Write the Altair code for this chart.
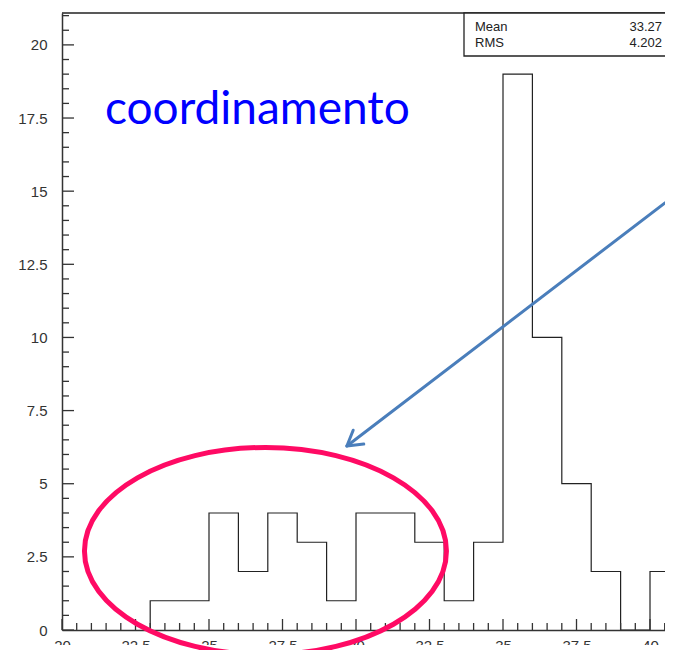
import altair as alt
import pandas as pd

# ---- histogram data (bin low edges, width 1) ----
bin_low = [23, 24, 25, 26, 27, 28, 29, 30, 31, 32, 33, 34, 35, 36, 37, 38, 39, 40]
counts = [1, 1, 4, 2, 4, 3, 1, 4, 4, 3, 1, 3, 19, 10, 5, 2, 0, 2]
bin_width = 1

# ---- axes ----
x_domain = [20, 40.51]
y_domain = [0, 21.09]
x_major = [20, 22.5, 25, 27.5, 30, 32.5, 35, 37.5, 40]
y_major = [0, 2.5, 5, 7.5, 10, 12.5, 15, 17.5, 20]
x_minor = [20 + 0.5 * i for i in range(42) if (0.5 * i) % 2.5 != 0]
y_minor = [0.5 * i for i in range(43) if (0.5 * i) % 2.5 != 0]

# ---- stats box ----
stats_labels = ["Mean", "RMS"]
stats_values = ["33.27", "4.202"]

# ---- annotations (data coordinates) ----
note_text = "coordinamento"
note_pos = [21.46, 17.3]
ellipse_center = [26.92, 2.70]
arrow_tail = [40.51, 14.60]
arrow_tip = [29.69, 6.29]

W, H = 603, 617

# build step outline
xs = [bin_low[0]] + bin_low + [bin_low[-1] + bin_width]
ys = [0] + counts + [counts[-1]]
hist_df = pd.DataFrame({"x": xs, "y": ys, "i": list(range(len(xs)))})

xsc = alt.Scale(domain=x_domain, nice=False, zero=False)
ysc = alt.Scale(domain=y_domain, nice=False, zero=False)

axis_common = dict(
    labelExpr="'' + datum.value", ticks=False, tickSize=0, grid=False, title=None,
    domainColor="#333333", domainWidth=1.5, labelFont="Liberation Sans",
    labelFontSize=15, labelColor="#333333", labelFlush=False,
    labelOverlap=False, zindex=0,
)
x_axis = alt.Axis(values=x_major, labelPadding=8, **axis_common)
y_axis = alt.Axis(values=y_major, labelPadding=15, **axis_common)

one = pd.DataFrame({"a": [0]})

hist = alt.Chart(hist_df).mark_line(
    interpolate="step-after", clip=True, color="#222222", strokeWidth=1.2
).encode(
    x=alt.X("x:Q", scale=xsc, axis=x_axis),
    y=alt.Y("y:Q", scale=ysc, axis=y_axis),
    order="i:Q",
)

tick_color = "#333333"
xt_major = alt.Chart(pd.DataFrame({"v": x_major})).mark_rule(color=tick_color, strokeWidth=1.3).encode(
    x=alt.X("v:Q", scale=xsc), y=alt.value(H), y2=alt.value(H - 11))
xt_minor = alt.Chart(pd.DataFrame({"v": x_minor})).mark_rule(color=tick_color, strokeWidth=1.3, clip=True).encode(
    x=alt.X("v:Q", scale=xsc), y=alt.value(H), y2=alt.value(H - 7))
yt_major = alt.Chart(pd.DataFrame({"v": y_major})).mark_rule(color=tick_color, strokeWidth=1.3).encode(
    y=alt.Y("v:Q", scale=ysc), x=alt.value(0), x2=alt.value(12))
yt_minor = alt.Chart(pd.DataFrame({"v": y_minor})).mark_rule(color=tick_color, strokeWidth=1.3, clip=True).encode(
    y=alt.Y("v:Q", scale=ysc), x=alt.value(0), x2=alt.value(7))

top_frame = alt.Chart(one).mark_rule(color="#222222", strokeWidth=1.5).encode(
    x=alt.value(0), x2=alt.value(W), y=alt.value(0))

mask = alt.Chart(one).mark_rect(fill="white", stroke=None).encode(
    x=alt.value(-54), x2=alt.value(W), y=alt.value(H + 15), y2=alt.value(H + 30))

box = alt.Chart(one).mark_rect(fill="white", stroke="#222222", strokeWidth=1.3).encode(
    x=alt.value(402), x2=alt.value(W + 20), y=alt.value(0), y2=alt.value(43))
box_lbl = alt.Chart(one).mark_text(
    text=stats_labels, align="left", baseline="alphabetic", lineHeight=16,
    font="Liberation Sans", fontSize=13, color="#222222"
).encode(x=alt.value(413), y=alt.value(18))
box_val = alt.Chart(one).mark_text(
    text=stats_values, align="right", baseline="alphabetic", lineHeight=16,
    font="Liberation Sans", fontSize=13, color="#222222"
).encode(x=alt.value(W - 3), y=alt.value(18))

ellipse_path = ("M 1 0 C 1 0.316 0.5523 0.572 0 0.572 C -0.5523 0.572 -1 0.316 -1 0 "
                "C -1 -0.316 -0.5523 -0.572 0 -0.572 C 0.5523 -0.572 1 -0.316 1 0 Z")
ellipse = alt.Chart(pd.DataFrame({"x": [ellipse_center[0]], "y": [ellipse_center[1]]})).mark_point(
    shape=ellipse_path, size=362 ** 2, filled=False, stroke="#ff0a64", strokeWidth=5, opacity=1
).encode(x=alt.X("x:Q", scale=xsc), y=alt.Y("y:Q", scale=ysc))

arrow_color = "#4a7ebb"
arrow_df = pd.DataFrame({"x": [arrow_tail[0]], "y": [arrow_tail[1]],
                         "x2": [arrow_tip[0]], "y2": [arrow_tip[1]]})
shaft = alt.Chart(arrow_df).mark_rule(color=arrow_color, strokeWidth=3, strokeCap="round").encode(
    x=alt.X("x:Q", scale=xsc), y=alt.Y("y:Q", scale=ysc), x2="x2:Q", y2="y2:Q")
head = alt.Chart(pd.DataFrame({"x": [arrow_tip[0]], "y": [arrow_tip[1]]})).mark_point(
    shape="M -1 -0.6 L 0 0 L -1 0.6", size=850, angle=142.7, filled=False,
    stroke=arrow_color, strokeWidth=3, opacity=1, strokeCap="round", strokeJoin="round"
).encode(x=alt.X("x:Q", scale=xsc), y=alt.Y("y:Q", scale=ysc))

note = alt.Chart(pd.DataFrame({"x": [note_pos[0]], "y": [note_pos[1]], "t": [note_text]})).mark_text(
    align="left", baseline="alphabetic", font="Lato", fontSize=46, color="#0000ff"
).encode(x=alt.X("x:Q", scale=xsc), y=alt.Y("y:Q", scale=ysc), text="t:N")

chart = alt.layer(
    hist, xt_major, xt_minor, yt_major, yt_minor, top_frame, mask,
    box, box_lbl, box_val, note, ellipse, shaft, head
).properties(
    width=W, height=H,
    autosize=alt.AutoSizeParams(type="none"),
    padding={"left": 54, "top": 5, "right": 0, "bottom": 20},
    background="white",
).configure_view(stroke=None)

chart.save("out.html", embed_options={"renderer": "svg", "actions": False})
